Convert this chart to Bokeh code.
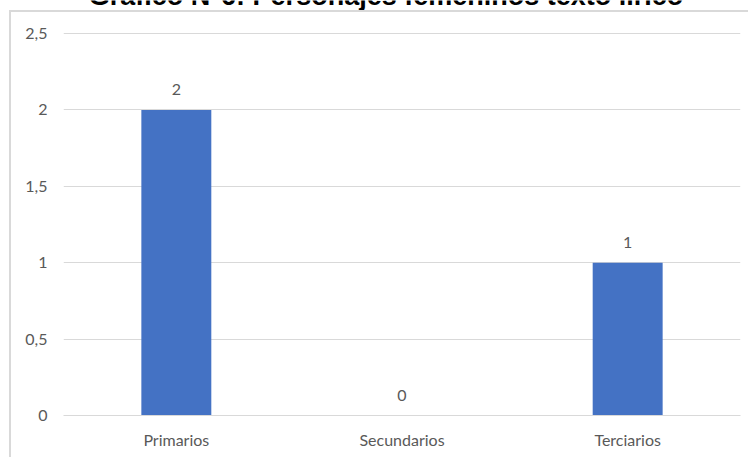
from bokeh.plotting import figure
from bokeh.models import ColumnDataSource, FixedTicker, InlineStyleSheet
from bokeh.core.properties import value
from bokeh.embed import file_html
from bokeh.resources import INLINE

title_text = "Gráfico N°6: Personajes femeninos texto lírico"
categories = ["Primarios", "Secundarios", "Terciarios"]
values = [2, 0, 1]
y_ticks = [0, 0.5, 1, 1.5, 2, 2.5]
y_tick_labels = ["0", "0,5", "1", "1,5", "2", "2,5"]

# frame reaches the canvas top so the (cropped) title can sit inside it;
# 2.5 must land 33px below the top of a 415px-tall frame
Y_TOP = 2.5 * 415 / 382

src = ColumnDataSource(dict(cat=categories, val=values, lab=[str(v) for v in values]))

css = InlineStyleSheet(css="""
:host { position: relative; }
:host::after { content: ""; position: absolute; left: 9px; top: 10px; right: 0px; bottom: 0px;
  border-left: 2px solid #d9d9d9; border-top: 2px solid #d9d9d9; pointer-events: none; }
""")

p = figure(x_range=categories, y_range=(0, Y_TOP), width=748, height=457,
           output_backend="svg", toolbar_location=None, stylesheets=[css],
           min_border_left=63, min_border_right=8, min_border_top=0, min_border_bottom=42)
p.outline_line_color = None
p.background_fill_color = "white"
p.border_fill_color = "white"

p.vbar(x="cat", top="val", width=0.31, source=src, color="#4472C4", line_color=None)
p.text(x="cat", y="val", text="lab", source=src, text_align="center", text_baseline="middle",
       y_offset=-20, text_font=value("Lato"), text_font_size="16px", text_color="#595959")

# chart title (its upper part is cut off by the top edge, as in the reference)
p.text(x=[categories[1]], y=[Y_TOP], text=[title_text], x_offset=-16, y_offset=-5,
       text_align="center", text_baseline="alphabetic", text_font=value("Liberation Sans"),
       text_font_style="bold", text_font_size="27px", text_color="black")

p.xgrid.grid_line_color = None
p.ygrid.grid_line_color = "#d9d9d9"
p.ygrid.ticker = FixedTicker(ticks=y_ticks)
p.yaxis.ticker = FixedTicker(ticks=y_ticks)
p.yaxis.major_label_overrides = {t: l for t, l in zip(y_ticks, y_tick_labels)}
for ax in (p.xaxis[0], p.yaxis[0]):
    ax.major_tick_line_color = None
    ax.minor_tick_line_color = None
    ax.major_tick_out = 0
    ax.major_tick_in = 0
    ax.major_label_text_font = "Lato"
    ax.major_label_text_font_size = "16px"
    ax.major_label_text_color = "#595959"
p.yaxis.axis_line_color = None
p.yaxis.major_label_standoff = 16
p.xaxis.axis_line_color = "#d9d9d9"
p.xaxis.major_label_standoff = 14

open("out.html", "w").write(file_html(p, INLINE))
